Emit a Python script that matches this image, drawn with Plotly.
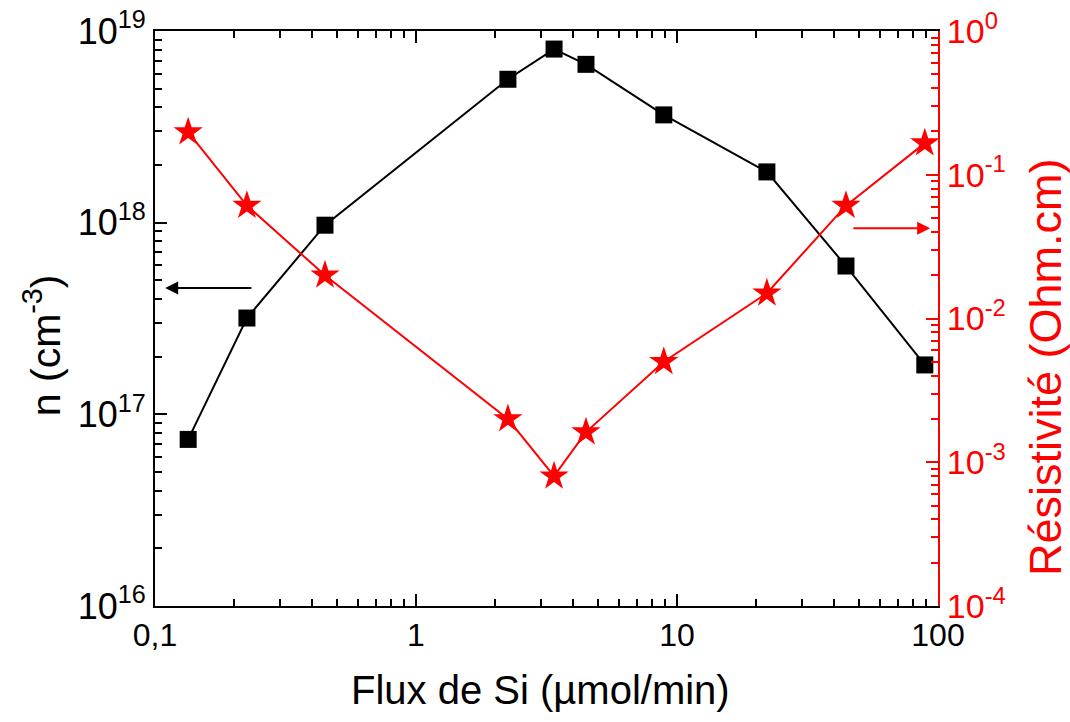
import plotly.graph_objects as go

# flux de Si (µmol/min)
flux = [0.134, 0.225, 0.448, 2.25, 3.38, 4.48, 8.9, 22.1, 44.4, 89]
# concentration de porteurs n (cm-3)
n_cm3 = [7.4e16, 3.18e17, 9.7e17, 5.6e18, 8.05e18, 6.7e18, 3.65e18, 1.84e18, 5.94e17, 1.81e17]
# résistivité (Ohm.cm)
resist = [0.198, 0.061, 0.020, 0.0020, 0.0008, 0.00162, 0.0050, 0.015, 0.061, 0.166]

x_tickvals = [0.1, 1, 10, 100]
x_ticktext = ["0,1", "1", "10", "100"]
n_tickvals = [1e16, 1e17, 1e18, 1e19]
n_ticktext = ["10<sup>16</sup>", "10<sup>17</sup>", "10<sup>18</sup>", "10<sup>19</sup>"]
r_tickvals = [1e-4, 1e-3, 1e-2, 1e-1, 1]
r_ticktext = ["10<sup>-4</sup>", "10<sup>-3</sup>", "10<sup>-2</sup>", "10<sup>-1</sup>", "10<sup>0</sup>"]

# petites graduations 2..9 de chaque décade
def minor_vals(decades):
    return [m * d for d in decades[:-1] for m in range(2, 10)]

font = "Liberation Sans, Arial, sans-serif"
red = "#ff0000"

fig = go.Figure()
fig.add_trace(go.Scatter(x=flux, y=n_cm3, mode="lines+markers",
                         line=dict(color="black", width=2),
                         marker=dict(symbol="square", size=17, color="black"),
                         yaxis="y", showlegend=False))
fig.add_trace(go.Scatter(x=flux, y=resist, mode="lines+markers",
                         line=dict(color=red, width=2),
                         marker=dict(symbol="star", size=22, color=red),
                         yaxis="y2", showlegend=False))

fig.update_layout(
    width=1070, height=722,
    margin=dict(l=155, r=132, t=31, b=116),
    plot_bgcolor="white", paper_bgcolor="white",
    font=dict(family=font, size=30, color="black"),
    xaxis=dict(type="log", range=[-1, 2], tickmode="array", tickvals=x_tickvals, ticktext=x_ticktext,
               ticks="inside", ticklen=12, tickwidth=2, tickcolor="black",
               minor=dict(tickmode="array", tickvals=minor_vals(x_tickvals),
                          ticks="inside", ticklen=7, tickwidth=2, tickcolor="black", showgrid=False),
               showline=True, linecolor="black", linewidth=2, mirror="ticks",
               showgrid=False, zeroline=False, automargin=False,
               tickfont=dict(size=32)),
    yaxis=dict(type="log", range=[16, 19], tickmode="array", tickvals=n_tickvals, ticktext=n_ticktext,
               ticks="inside", ticklen=12, tickwidth=2, tickcolor="black",
               minor=dict(tickmode="array", tickvals=minor_vals(n_tickvals),
                          ticks="inside", ticklen=7, tickwidth=2, tickcolor="black", showgrid=False),
               showline=True, linecolor="black", linewidth=2,
               showgrid=False, zeroline=False, automargin=False,
               tickfont=dict(size=36)),
    yaxis2=dict(type="log", range=[-4, 0], tickmode="array", tickvals=r_tickvals, ticktext=r_ticktext,
                overlaying="y", side="right",
                ticks="inside", ticklen=12, tickwidth=2, tickcolor=red,
                minor=dict(tickmode="array", tickvals=minor_vals(r_tickvals),
                           ticks="inside", ticklen=7, tickwidth=2, tickcolor=red, showgrid=False),
                showline=True, linecolor=red, linewidth=2,
                showgrid=False, zeroline=False, automargin=False,
                tickfont=dict(size=34, color=red)),
)

# titres des axes
fig.add_annotation(text="Flux de Si (µmol/min)", x=0.4917, y=-0.146, xref="x domain", yref="y domain",
                   showarrow=False, xanchor="center", yanchor="middle", font=dict(size=40))
fig.add_annotation(text="n (cm<sup>-3</sup>)", x=-0.144, y=0.454, xref="x domain", yref="y domain",
                   showarrow=False, xanchor="center", yanchor="middle", textangle=-90, font=dict(size=41))
fig.add_annotation(text="Résistivité (Ohm.cm)", x=1.138, y=0.4157, xref="x domain", yref="y domain",
                   showarrow=False, xanchor="center", yanchor="middle", textangle=-90,
                   font=dict(size=45, color=red))

# flèches indiquant l'axe de chaque courbe
fig.add_annotation(x=0.013, y=0.553, xref="x domain", yref="y domain",
                   ax=0.125, ay=0.553, axref="x domain", ayref="y domain",
                   showarrow=True, arrowhead=2, arrowsize=1.3, arrowwidth=2, arrowcolor="black", text="")
fig.add_annotation(x=0.99, y=0.657, xref="x domain", yref="y domain",
                   ax=0.89, ay=0.657, axref="x domain", ayref="y domain",
                   showarrow=True, arrowhead=2, arrowsize=1.3, arrowwidth=2, arrowcolor=red, text="")

# pas de marge autour de la page, pas de barre d'outils
fig.write_html("out.html", config={"displayModeBar": False},
               post_script="document.body.style.margin='0px';")
